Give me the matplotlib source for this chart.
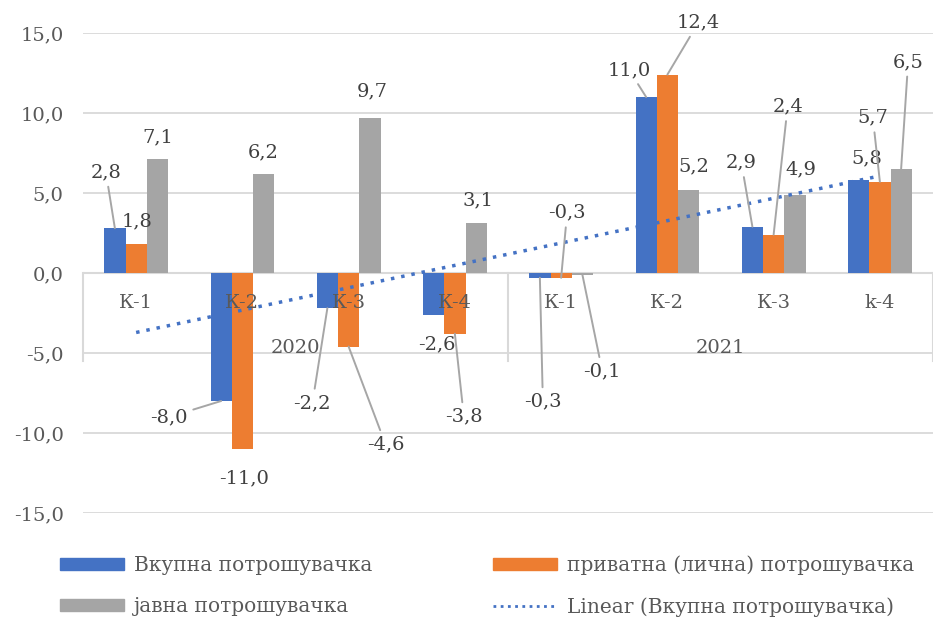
import numpy as np
import matplotlib
matplotlib.use('Agg')
import matplotlib.pyplot as plt
from matplotlib.patches import Patch
from matplotlib.lines import Line2D

plt.rcParams['font.family'] = ['DejaVu Serif']

# data
quarters = ['К-1', 'К-2', 'К-3', 'К-4', 'К-1', 'К-2', 'К-3', 'k-4']
years = ['2020', '2021']
vkupna = [2.8, -8.0, -2.2, -2.6, -0.3, 11.0, 2.9, 5.8]
privatna = [1.8, -11.0, -4.6, -3.8, -0.3, 12.4, 2.4, 5.7]
javna = [7.1, 6.2, 9.7, 3.1, -0.1, 5.2, 4.9, 6.5]

names = ['Вкупна потрошувачка', 'приватна (лична) потрошувачка', 'јавна потрошувачка']
trend_name = 'Linear (Вкупна потрошувачка)'
colors = ['#4472C4', '#ED7D31', '#A5A5A5']

# label offsets in pixels from bar end (dx, dy), and whether a leader line is drawn
offs = [
    [(-9, 56, 1), (-52, -16, 1), (-15, -95, 1), (3, -30, 0), (3, -124, 1), (-17, 27, 1), (-11, 64, 1), (8, 22, 0)],
    [(1, 23, 0), (2, -29, 0), (37, -98, 1), (9, -83, 1), (6, 65, 1), (31, 52, 1), (14, 128, 1), (-7, 64, 1)],
    [(0, 22, 0), (0, 21, 0), (2, 26, 0), (2, 23, 0), (20, -97, 1), (5, 23, 0), (6, 25, 0), (7, 107, 1)],
]

txt = '#595959'
grid = '#D9D9D9'

fig = plt.figure(figsize=(9.33, 6.2), dpi=100)
ax = fig.add_axes([83/933, 1 - 513/620, 1 - 83/933, 480/620])

x = np.arange(len(quarters))
w = 0.2
series = [vkupna, privatna, javna]
for k, vals in enumerate(series):
    xs = x + (k - 1) * w
    ax.bar(xs, vals, width=w, color=colors[k], zorder=2)
    for i, v in enumerate(vals):
        dx, dy, lead = offs[k][i]
        lab = ('%.1f' % v).replace('.', ',')
        ap = dict(arrowstyle='-', color='#A6A6A6', lw=1.4, shrinkA=2, shrinkB=0) if lead else None
        ax.annotate(lab, xy=(xs[i], v), xytext=(dx, dy), textcoords='offset pixels',
                    ha='center', va='center', fontsize=14, color='#404040',
                    arrowprops=ap, zorder=5)

# linear trend of the first series
p = np.polyfit(x, vkupna, 1)
ax.plot(x, np.polyval(p, x), linestyle=(0, (1, 2)), color='#4472C4', lw=2.5, zorder=3)

ax.set_xlim(-0.5, 7.5)
ax.set_ylim(-15, 15)
ticks = [-15, -10, -5, 0, 5, 10, 15]
ax.set_yticks(ticks)
ax.set_yticklabels([('%.1f' % t).replace('.', ',') for t in ticks], fontsize=14, color=txt)
ax.tick_params(axis='y', length=0, pad=14)
ax.set_xticks([])
ax.yaxis.grid(True, color=grid, lw=1.3, zorder=0)
for s in ax.spines.values():
    s.set_visible(False)
ax.axhline(0, color=grid, lw=1.5, zorder=1)
for xv in [-0.5, 3.5, 7.5]:
    ax.plot([xv, xv], [0, -5.5], color=grid, lw=1.5, zorder=1, clip_on=False)

for i, q in enumerate(quarters):
    ax.text(i, -1.9, q, ha='center', va='center', fontsize=14, color=txt, zorder=4)
for j, yr in enumerate(years):
    ax.text(1.5 + 4 * j, -4.7, yr, ha='center', va='center', fontsize=14, color=txt, zorder=4)

col1 = [Patch(color=colors[0], label=names[0]),
        Patch(color=colors[2], label=names[2])]
col2 = [Patch(color=colors[1], label=names[1]),
        Line2D([0], [0], linestyle=(0, (1, 1.6)), color='#4472C4', lw=2, label=trend_name)]
for hs, xl in [(col1, 60), (col2, 493)]:
    leg = fig.legend(handles=hs, loc='center left', bbox_to_anchor=(xl/933, 1 - 586/620),
                     frameon=False, fontsize=14.5, borderaxespad=0, borderpad=0,
                     handlelength=3.2, handleheight=0.5, handletextpad=0.45, labelspacing=1.1)
    for t in leg.get_texts():
        t.set_color(txt)

fig.savefig('out.png', dpi=100)
